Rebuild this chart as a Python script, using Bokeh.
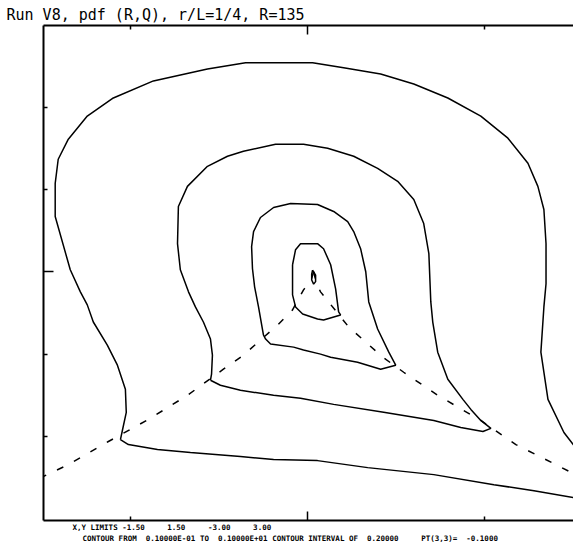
from bokeh.plotting import figure
from bokeh.models import Range1d, LinearAxis, FixedTicker, Title
from bokeh.embed import file_html
from bokeh.resources import INLINE

NB = "\u00a0"

# ---- data (R horizontal, Q vertical) ----
title_text = "Run V8, pdf (R,Q), r/L=1/4, R=135"
info_line1 = "X,Y LIMITS -1.50     1.50     -3.00     3.00"
info_line2 = "CONTOUR FROM  0.10000E-01 TO  0.10000E+01 CONTOUR INTERVAL OF  0.20000     PT(3,3)=  -0.1000"

x_ticks_major = [0]
x_ticks_minor = [-1, 1]
y_ticks_major = [0]
y_ticks_minor = [-2, -1, 1, 2]

# outermost contour
R1 = [-1.056, -1.045, -1.023, -1.028, -1.073, -1.130, -1.209, -1.243, -1.282, -1.339,
      -1.424, -1.424, -1.407, -1.350, -1.243, -1.096, -0.870, -0.565, -0.350, 0.028,
      0.203, 0.412, 0.599, 0.791, 0.977, 1.130, 1.243, 1.299, 1.333, 1.345,
      1.345, 1.333, 1.316, 1.356, 1.446, 1.503, 1.655, 1.655, 1.503, 1.277,
      1.051, 0.712, 0.339, 0.056, -0.192, -0.379, -0.661, -0.847, -1.011, -1.056]
Q1 = [-2.037, -1.927, -1.707, -1.427, -1.134, -0.890, -0.610, -0.402, -0.244, 0.024,
      0.671, 1.073, 1.366, 1.610, 1.890, 2.110, 2.317, 2.463, 2.537, 2.537,
      2.476, 2.402, 2.280, 2.110, 1.890, 1.622, 1.317, 1.037, 0.756, 0.341,
      -0.146, -0.427, -0.976, -1.549, -1.951, -2.110, -2.440, -2.850, -2.744, -2.659,
      -2.585, -2.463, -2.378, -2.293, -2.280, -2.244, -2.195, -2.159, -2.098, -2.037]

# second contour
R2 = [-0.548, -0.542, -0.537, -0.548, -0.588, -0.633, -0.672, -0.718, -0.734, -0.729,
      -0.678, -0.565, -0.452, -0.362, -0.181, -0.023, 0.113, 0.260, 0.395, 0.508,
      0.599, 0.655, 0.684, 0.695, 0.706, 0.734, 0.791, 0.876, 0.921, 0.977,
      1.034, 0.989, 0.864, 0.712, 0.429, 0.147, -0.040, -0.192, -0.379, -0.492, -0.548]
Q2 = [-1.317, -1.244, -1.012, -0.817, -0.610, -0.427, -0.244, 0.024, 0.341, 0.793,
      1.037, 1.280, 1.402, 1.463, 1.549, 1.549, 1.500, 1.402, 1.256, 1.098,
      0.878, 0.585, 0.220, -0.366, -0.610, -0.976, -1.305, -1.549, -1.671, -1.805,
      -1.902, -1.939, -1.890, -1.805, -1.707, -1.610, -1.537, -1.500, -1.439, -1.378, -1.317]

# third contour
R3 = [-0.237, -0.249, -0.277, -0.299, -0.311, -0.316, -0.305, -0.266, -0.192, -0.096,
      0.056, 0.147, 0.226, 0.260, 0.299, 0.328, 0.345, 0.395, 0.458, 0.497,
      0.412, 0.282, 0.130, 0.073, -0.023, -0.079, -0.209, -0.237]
Q3 = [-0.817, -0.768, -0.427, -0.183, 0.037, 0.305, 0.488, 0.659, 0.780, 0.829,
      0.817, 0.732, 0.610, 0.488, 0.280, 0.000, -0.366, -0.695, -0.976, -1.134,
      -1.183, -1.098, -1.037, -1.000, -0.951, -0.915, -0.878, -0.817]

# fourth contour
R4 = [-0.085, -0.068, -0.040, 0.056, 0.090, 0.130, 0.158, 0.175, 0.186, 0.090,
      0.056, -0.028, -0.068, -0.085, -0.085]
Q4 = [0.085, 0.268, 0.341, 0.341, 0.280, 0.085, -0.207, -0.488, -0.524, -0.585,
      -0.573, -0.512, -0.427, -0.280, 0.085]

# innermost contour
R5 = [0.028, 0.045, 0.045, 0.034, 0.023, 0.023, 0.028]
Q5 = [0.020, -0.040, -0.120, -0.150, -0.100, -0.030, 0.020]

# dashed zero-discriminant line, left and right branches
VL_R = [0.034, 0.020, -0.023, -0.085, -0.169, -0.266, -0.362, -0.475, -0.678, -0.898, -1.124, -1.350, -1.565]
VL_Q = [0.000, -0.100, -0.220, -0.463, -0.646, -0.829, -1.012, -1.183, -1.500, -1.793, -2.061, -2.341, -2.561]
VR_R = [0.034, 0.051, 0.073, 0.232, 0.328, 0.424, 0.542, 0.734, 0.977, 1.175, 1.412, 1.599]
VR_Q = [0.000, -0.146, -0.244, -0.671, -0.854, -1.037, -1.220, -1.500, -1.805, -2.098, -2.354, -2.561]

contours = [(R1, Q1), (R2, Q2), (R3, Q3), (R4, Q4), (R5, Q5)]

# ---- figure ----
p = figure(width=573, height=542,
           x_range=Range1d(-1.49, 1.50), y_range=Range1d(-3.02, 2.99),
           output_backend="svg", toolbar_location=None,
           x_axis_location=None, y_axis_location=None,
           min_border_left=43, min_border_right=0, min_border_top=25, min_border_bottom=0)
p.grid.visible = False
p.outline_line_color = None
p.background_fill_color = "white"
p.border_fill_color = "white"

p.title = Title(text=title_text, align="left", offset=-37,
                text_font="DejaVu Sans Mono", text_font_size="15px",
                text_font_style="normal", text_color="black", standoff=4)

def make_axis(major, minor, major_len):
    return LinearAxis(ticker=FixedTicker(ticks=major, minor_ticks=minor),
                      major_tick_in=major_len, major_tick_out=0,
                      minor_tick_in=4, minor_tick_out=0,
                      major_tick_line_color="black", minor_tick_line_color="black",
                      major_tick_line_width=1.5, minor_tick_line_width=1.5,
                      axis_line_color="black", axis_line_width=2,
                      major_label_text_font_size="0px", major_label_text_color=None,
                      major_label_standoff=0)

p.add_layout(make_axis(y_ticks_major, y_ticks_minor, 10), "left")
p.add_layout(make_axis(x_ticks_major, x_ticks_minor, 9), "above")
p.add_layout(make_axis(x_ticks_major, x_ticks_minor, 9), "below")

for txt, off in [(info_line1, 29), (info_line2, 39)]:
    p.add_layout(Title(text=txt.replace(" ", NB), align="left", offset=off,
                       text_font="DejaVu Sans Mono", text_font_size="7.5px",
                       text_font_style="bold", text_color="black", standoff=0), "below")

for r, q in contours:
    p.line(r, q, line_color="black", line_width=1.5)

p.line(VL_R, VL_Q, line_color="black", line_width=1.5, line_dash="7 12")
p.line(VR_R, VR_Q, line_color="black", line_width=1.5, line_dash="7 12")

open("out.html", "w").write(file_html(p, INLINE))
